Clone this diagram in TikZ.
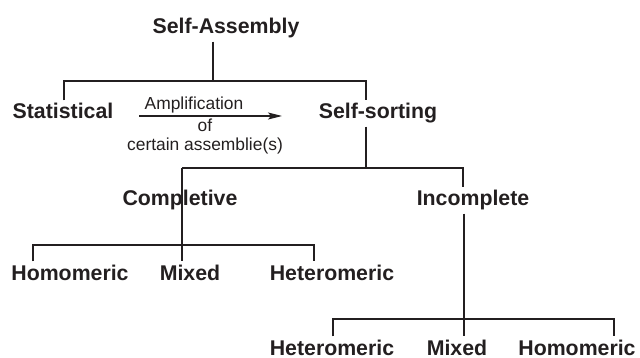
\documentclass[tikz,border=0pt]{standalone}
\usepackage{fontspec}
\setmainfont{Liberation Sans}
\usepackage{xcolor}
\definecolor{inkgray}{HTML}{231F20}
\usetikzlibrary{arrows.meta}

\tikzset{
  term/.style={anchor=base, inner sep=3pt, text=inkgray, font=\fontsize{21.3}{25}\selectfont\bfseries},
  note/.style={anchor=base, inner sep=1pt, text=inkgray, font=\fontsize{17.4}{20}\selectfont},
  branch/.style={draw=inkgray, line width=1.2pt}
}

\begin{document}
\begin{tikzpicture}[x=1pt, y=-1pt]
  \useasboundingbox (0,0) rectangle (640,358);

  % levels
  \node[term] (asm) at (226,34) {Self-Assembly};
  \node[term] (stat) at (63,119) {Statistical};
  \node[term] (sort) at (378,119) {Self-sorting};
  \node[term] (comp) at (180,206) {Completive};
  \node[term] (incp) at (473,206) {Incomplete};
  \node[term] (homoA) at (70,280) {Homomeric};
  \node[term] (mixA) at (190,280) {Mixed};
  \node[term] (hetA) at (332,280) {Heteromeric};
  \node[term] (hetB) at (332,355) {Heteromeric};
  \node[term] (mixB) at (457,355) {Mixed};
  \node[term] (homoB) at (577,355) {Homomeric};

  % junctions
  \coordinate (j0) at (213,81);
  \coordinate (jL) at (64,81);
  \coordinate (jR) at (366,81);
  \coordinate (k0) at (366,168);
  \coordinate (kL) at (182,168);
  \coordinate (kR) at (463,168);
  \coordinate (m0) at (182,245);
  \coordinate (mL) at (33,245);
  \coordinate (mR) at (314,245);
  \coordinate (n0) at (464,319);
  \coordinate (nL) at (333,319);
  \coordinate (nR) at (614,319);

  \draw[branch] (asm.south -| j0) -- (j0);
  \draw[branch] (stat.north -| jL) |- (j0) -| (sort.north -| jR);
  \draw[branch] (sort.south -| k0) -- (k0);
  \draw[branch] (kL) -- (kR) -- (incp.north -| kR);
  \draw[branch] (kL) -- (mixA.north -| kL);
  \draw[branch] (homoA.north -| mL) |- (m0) -| (hetA.north -| mR);
  \draw[branch] (incp.south -| n0) -- (mixB.north -| n0);
  \draw[branch] (hetB.north -| nL) |- (n0) -| (homoB.north -| nR);

  % amplification arrow
  \coordinate (ampS) at (139,116);
  \coordinate (ampE) at (282,116);
  \draw[draw=inkgray, line width=1.2pt, -{Stealth[length=14pt, width=7pt, inset=3pt]}] (ampS) -- (ampE);
  \node[note] (amp) at (194,110) {Amplification};
  \node[note] (of) at (205,132) {of};
  \node[note] (cert) at (205,151) {certain assemblie(s)};
\end{tikzpicture}
\end{document}
